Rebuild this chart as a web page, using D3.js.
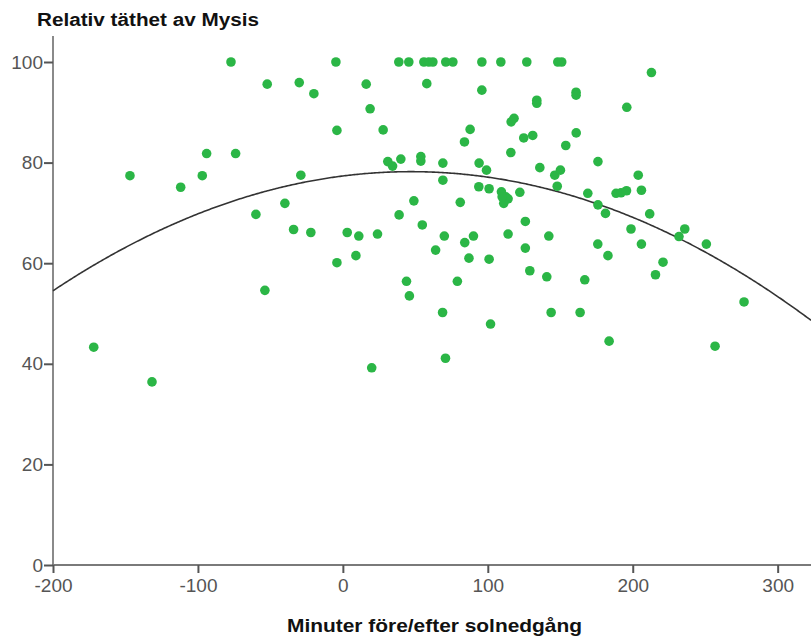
<!DOCTYPE html>
<html>
<head>
<meta charset="utf-8">
<script src="https://cdn.jsdelivr.net/npm/d3@7"></script>
<style>
  body { margin: 0; background: #fff; }
  svg { display: block; }
  .tick text { fill: #555; font-family: "Liberation Sans", Arial, sans-serif; font-size: 19px; }
</style>
</head>
<body>
<svg id="chart" width="811" height="638"></svg>
<script>
// minutes before/after sunset (x) and relative density (y)
let minutes = [
  -77.2, -4.8, 38.6, 45.5, 55.9, 59.3, 62.1, 71.0, 75.9, 95.9, 109.0, 126.9, 148.3, 151.0,
  -52.2, -30.1, -20.0, 16.1, 18.8, -4.1, 27.8, -94.0, -74.0, -146.9, -111.9, -97.0, -29.0,
  31.0, 34.3, 40.0, 53.8, 53.8, -40.0, -60.0, 49.0, 38.8, 54.8, -34.0, -22.1, 3.0, 11.0,
  23.9, 9.0, -4.1, 43.9, 45.9, -53.8, -171.9, -131.7, 19.9, 212.9, 57.9, 95.9, 133.8,
  133.8, 160.9, 160.9, 195.9, 87.8, 83.9, 116.1, 118.1, 124.8, 131.0, 161.0, 115.9, 153.8,
  69.0, 69.0, 94.0, 99.1, 176.0, 135.9, 146.2, 150.1, 147.9, 203.8, 93.8, 100.9, 109.4,
  112.4, 111.0, 114.0, 109.9, 122.1, 169.0, 176.0, 181.2, 188.5, 191.9, 195.7, 206.0,
  211.7, 81.0, 125.9, 198.8, 235.9, 231.9, 250.8, 70.0, 84.1, 90.1, 114.0, 142.1, 175.9,
  206.0, 64.0, 87.0, 100.9, 125.9, 182.9, 220.9, 215.7, 129.0, 140.7, 166.9, 79.0, 68.8,
  101.9, 143.7, 163.7, 276.8, 183.7, 256.8, 70.8
];
let density = [
  100, 100, 100, 100, 100, 100, 100, 100, 100, 100, 100, 100, 100, 100,
  95.6, 95.9, 93.7, 95.6, 90.7, 86.4, 86.5, 81.8, 81.8, 77.4, 75.1, 77.4, 77.5,
  80.2, 79.3, 80.7, 81.2, 80.3, 71.9, 69.7, 72.4, 69.6, 67.6, 66.7, 66.1, 66.1, 65.4,
  65.8, 61.5, 60.1, 56.4, 53.5, 54.6, 43.3, 36.4, 39.2, 97.9, 95.7, 94.4, 92.4,
  91.8, 94.0, 93.4, 91.0, 86.6, 84.1, 88.1, 88.8, 84.9, 85.4, 85.9, 82.0, 83.4,
  79.9, 76.5, 79.9, 78.5, 80.2, 79.0, 77.5, 78.5, 75.3, 77.5, 75.2, 74.8, 74.2,
  73.2, 71.9, 72.8, 73.2, 74.1, 73.9, 71.6, 69.9, 73.9, 74.0, 74.4, 74.5,
  69.8, 72.1, 68.3, 66.8, 66.8, 65.3, 63.8, 65.4, 64.1, 65.4, 65.8, 65.4, 63.8,
  63.8, 62.6, 61.0, 60.8, 63.0, 61.5, 60.2, 57.7, 58.5, 57.3, 56.7, 56.4, 50.2,
  47.9, 50.2, 50.2, 52.3, 44.5, 43.5, 41.1
];
// quadratic fit: a + b*x + c*x^2
let fitCoef = [77.34, 0.0365, -0.000388];
let xTicks = [-200, -100, 0, 100, 200, 300];
let yTicks = [0, 20, 40, 60, 80, 100];

let svg = d3.select('#chart');

let x = d3.scaleLinear().domain([-200, 323]).range([53, 811]);
let y = d3.scaleLinear().domain([0, 100]).range([565, 62]);
let plain = function(d) { return String(d); };

// axis lines
svg.append('line').
    attr('x1', 53).attr('x2', 53).
    attr('y1', 36).attr('y2', y(0)).
    style('stroke', '#8a8a8a').style('stroke-width', '2px');
svg.append('line').
    attr('x1', 53).attr('x2', 811).
    attr('y1', y(0)).attr('y2', y(0)).
    style('stroke', '#7a7a7a').style('stroke-width', '2px');

let xAxis = svg.append('g').
    attr('transform', 'translate(0,' + y(0) + ')').
    call(d3.axisBottom(x).tickValues(xTicks).tickSize(8).tickPadding(6).tickFormat(plain));
xAxis.select('.domain').remove();
xAxis.selectAll('.tick line').style('stroke', '#555').style('stroke-width', '2px');

let yAxis = svg.append('g').
    attr('transform', 'translate(53,0)').
    call(d3.axisLeft(y).tickValues(yTicks).tickSize(9).tickPadding(1).tickFormat(plain));
yAxis.select('.domain').remove();
yAxis.selectAll('.tick line').style('stroke', '#555').style('stroke-width', '2px');

// fitted curve
let curveX = d3.range(-200, 323.5, 1);
let line = d3.line().
    x(function(d) { return x(d); }).
    y(function(d) { return y(fitCoef[0] + fitCoef[1] * d + fitCoef[2] * d * d); });
svg.append('path').
    datum(curveX).
    attr('d', line).
    style('fill', 'none').
    style('stroke', '#333').
    style('stroke-width', '1.6px');

// points
svg.append('g').
    selectAll('circle').
    data(d3.range(minutes.length)).
    join('circle').
    attr('cx', function(i) { return x(minutes[i]); }).
    attr('cy', function(i) { return y(density[i]); }).
    attr('r', 4.8).
    style('fill', '#2bb646');

// titles
svg.append('text').
    attr('x', 37).attr('y', 26).
    attr('textLength', 222).
    attr('lengthAdjust', 'spacingAndGlyphs').
    style('font-family', '"Liberation Sans", Arial, sans-serif').
    style('font-weight', 'bold').
    style('font-size', '18px').
    style('fill', '#111').
    text('Relativ täthet av Mysis');

svg.append('text').
    attr('x', 287).attr('y', 632).
    attr('textLength', 295).
    attr('lengthAdjust', 'spacingAndGlyphs').
    style('font-family', '"Liberation Sans", Arial, sans-serif').
    style('font-weight', 'bold').
    style('font-size', '19px').
    style('fill', '#111').
    text('Minuter före/efter solnedgång');
</script>
</body>
</html>
